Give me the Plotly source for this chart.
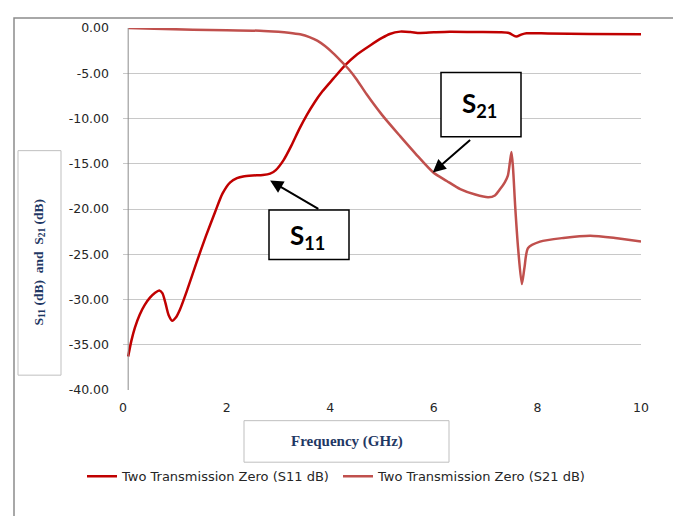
import plotly.graph_objects as go

# ---- data ----
s11_freq = [0.10, 0.16, 0.23, 0.32, 0.42, 0.52, 0.62, 0.70, 0.76, 0.82, 0.88, 0.95, 1.02, 1.10, 1.23, 1.42,
            1.60, 1.78, 1.92, 2.07, 2.20, 2.32, 2.50, 2.70, 2.84, 2.95, 3.10, 3.25, 3.40, 3.55,
            3.70, 3.85, 4.06, 4.29, 4.50, 4.77, 5.00, 5.15, 5.35, 5.55, 5.73, 6.00, 6.31, 6.80, 7.28,
            7.45, 7.59, 7.70, 7.79, 8.20, 9.00, 10.0]
s11_db = [-36.3, -34.6, -33.1, -31.7, -30.6, -29.8, -29.25, -29.0, -29.3, -30.4, -31.7, -32.35, -32.0, -31.1, -29.1, -25.9,
          -23.0, -20.3, -18.3, -17.05, -16.6, -16.4, -16.3, -16.25, -16.1, -15.7, -14.6, -13.0, -11.2, -9.6,
          -8.2, -7.0, -5.6, -4.1, -3.0, -1.93, -1.1, -0.66, -0.40, -0.45, -0.55, -0.48, -0.42, -0.45, -0.47,
          -0.55, -0.95, -0.70, -0.58, -0.60, -0.65, -0.69]

s21_freq = [0.10, 0.60, 1.35, 2.00, 2.64, 3.00, 3.20, 3.42, 3.60, 3.75, 3.90, 4.05, 4.20, 4.35, 4.50,
            4.70, 5.00, 5.35, 5.65, 5.99, 6.25, 6.51, 6.80, 7.05, 7.18, 7.28, 7.37, 7.43, 7.47,
            7.50, 7.53, 7.57, 7.63, 7.70, 7.75, 7.82, 8.05, 8.50, 9.02, 9.50, 10.0]
s21_db = [0.0, -0.08, -0.18, -0.25, -0.30, -0.42, -0.52, -0.70, -1.0, -1.4, -2.0, -2.75, -3.6, -4.5, -5.6,
          -7.3, -9.6, -11.95, -13.9, -15.96, -16.9, -17.8, -18.4, -18.7, -18.5, -17.8, -17.05, -16.3, -14.8,
          -13.7, -15.5, -19.6, -24.5, -28.3, -26.5, -24.3, -23.6, -23.2, -22.95, -23.2, -23.6]

y_tickvals = [0, -5, -10, -15, -20, -25, -30, -35, -40]
y_ticktext = ["0.00", "-5.00", "-10.00", "-15.00", "-20.00", "-25.00", "-30.00", "-35.00", "-40.00"]
x_tickvals = [0, 2, 4, 6, 8, 10]
x_ticktext = ["0", "2", "4", "6", "8", "10"]

s11_name = "Two Transmission Zero (S11 dB)"
s21_name = "Two Transmission Zero (S21 dB)"

# ---- layout geometry (reference pixels; page body adds an 8px offset) ----
OFF = 8
W, H = 681 - OFF, 516 - OFF
PL, PR, PT, PB = 123, 641, 24, 390


def px(x):
    return (x - PL) / (PR - PL)


def py(y):
    return (PB - y) / (PB - PT)


fig = go.Figure()
fig.add_trace(go.Scatter(x=s11_freq, y=s11_db, mode="lines", name=s11_name,
                         line=dict(color="#C00000", width=2.5, shape="spline", smoothing=0.7)))
fig.add_trace(go.Scatter(x=s21_freq, y=s21_db, mode="lines", name=s21_name,
                         line=dict(color="#C0504D", width=2.5, shape="spline", smoothing=0.7)))

tick_font = dict(family="DejaVu Sans", size=12.5, color="#262626")
navy = "#1F3864"

shapes = [
    # outer frame
    dict(type="rect", xref="paper", yref="paper", x0=px(14), x1=px(675), y0=py(540), y1=py(14),
         line=dict(color="#8C8C8C", width=1.5), layer="below"),
    # vertical axis line
    dict(type="line", xref="x", yref="paper", x0=0.1, x1=0.1, y0=0, y1=1,
         line=dict(color="#8C8C8C", width=1)),
    # y title box
    dict(type="rect", xref="paper", yref="paper", x0=px(18), x1=px(61), y0=py(375), y1=py(148),
         line=dict(color="#BFBFBF", width=1)),
    # x title box
    dict(type="rect", xref="paper", yref="paper", x0=px(244), x1=px(449), y0=py(463), y1=py(421),
         line=dict(color="#BFBFBF", width=1)),
    # S21 label box
    dict(type="rect", xref="paper", yref="paper", x0=px(441), x1=px(521), y0=py(134), y1=py(69),
         line=dict(color="black", width=1.5), fillcolor="white"),
    # S11 label box
    dict(type="rect", xref="paper", yref="paper", x0=px(269), x1=px(349), y0=py(258), y1=py(208),
         line=dict(color="black", width=1.5), fillcolor="white"),
]

label_font = dict(family="Lato", size=26, color="black")
annotations = [
    dict(xref="paper", yref="paper", x=px(39.5), y=py(261.5), textangle=-90, showarrow=False,
         xanchor="center", yanchor="middle",
         text="<b>S<sub>11</sub> (dB)  and  S<sub>21</sub> (dB)</b>",
         font=dict(family="Liberation Serif", size=13.5, color=navy)),
    dict(xref="paper", yref="paper", x=px(346.5), y=py(442), showarrow=False,
         xanchor="center", yanchor="middle",
         text="<b>Frequency (GHz)</b>",
         font=dict(family="Liberation Serif", size=15, color=navy)),
    dict(xref="paper", yref="paper", x=px(479), y=py(101), showarrow=False,
         xanchor="center", yanchor="middle",
         text="<b>S<sub>21</sub></b>", font=label_font),
    dict(xref="paper", yref="paper", x=px(307), y=py(235), showarrow=False,
         xanchor="center", yanchor="middle",
         text="<b>S<sub>11</sub></b>", font=label_font),
    # arrows
    dict(x=5.98, y=-15.96, ax=6.73, ay=-12.24, xref="x", yref="y", axref="x", ayref="y",
         showarrow=True, arrowhead=2, arrowsize=1.3, arrowwidth=2, arrowcolor="black", text=""),
    dict(x=2.84, y=-16.86, ax=3.80, ay=-20.08, xref="x", yref="y", axref="x", ayref="y",
         showarrow=True, arrowhead=2, arrowsize=1.3, arrowwidth=2, arrowcolor="black", text=""),
]

fig.update_layout(
    width=W, height=H,
    margin=dict(l=PL - OFF, r=W - (PR - OFF), t=PT - OFF, b=H - (PB - OFF), pad=0),
    paper_bgcolor="white", plot_bgcolor="white",
    shapes=shapes, annotations=annotations,
    showlegend=True,
    legend=dict(orientation="h", x=px(82), xanchor="left", y=py(462), yanchor="top",
                entrywidth=211, entrywidthmode="pixels",
                font=dict(family="DejaVu Sans", size=13, color="#262626"),
                bgcolor="rgba(0,0,0,0)", borderwidth=0, itemwidth=30),
    xaxis=dict(range=[0, 10], tickvals=x_tickvals, ticktext=x_ticktext, showgrid=False,
               zeroline=False, showline=False, ticks="", tickfont=tick_font,
               ticklabelstandoff=8),
    yaxis=dict(range=[-40, 0], tickvals=y_tickvals, ticktext=y_ticktext, showgrid=True,
               gridcolor="#C8C8C8", gridwidth=1, zeroline=False, showline=False, ticks="",
               tickfont=tick_font, ticklabelstandoff=13),
)

fig.write_html("out.html")
